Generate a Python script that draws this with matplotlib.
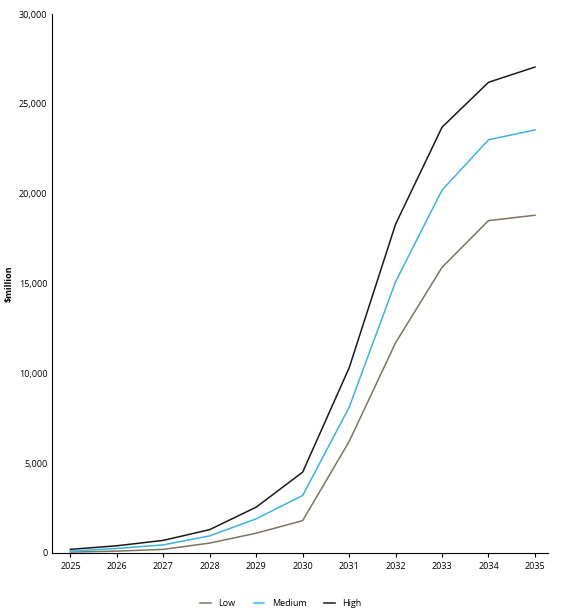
import matplotlib
matplotlib.use("Agg")
import matplotlib.pyplot as plt
from matplotlib.ticker import FuncFormatter

years = [2025, 2026, 2027, 2028, 2029, 2030, 2031, 2032, 2033, 2034, 2035]
low = [50, 100, 200, 550, 1100, 1800, 6200, 11700, 15900, 18500, 18800]
medium = [100, 250, 450, 950, 1900, 3200, 8100, 15100, 20200, 23000, 23550]
high = [200, 400, 700, 1300, 2550, 4500, 10300, 18300, 23700, 26200, 27050]

plt.rcParams['font.family'] = ['Open Sans', 'DejaVu Sans']
fig = plt.figure(figsize=(5.62, 6.11), dpi=100)
ax = fig.add_axes([0.093, 0.095, 0.882, 0.882])
ax.plot(years, low, color='#7d7462', lw=1.1, label='Low')
ax.plot(years, medium, color='#3db2e3', lw=1.1, label='Medium')
ax.plot(years, high, color='#1a1a1a', lw=1.1, label='High')
ax.set_xlim(2024.61, 2035.28)
ax.set_ylim(0, 30000)
ax.set_xticks(years)
ax.set_yticks(range(0, 30001, 5000))
ax.yaxis.set_major_formatter(FuncFormatter(lambda v, p: f"{int(v):,}"))
ax.tick_params(labelsize=6.5, length=3, width=0.8)
ax.tick_params(axis='y', length=0)
for s in ['top', 'right']:
    ax.spines[s].set_visible(False)
ax.set_ylabel('$million', fontsize=6.5, fontweight='bold')
fig.legend(loc='lower center', bbox_to_anchor=(0.5, -0.008), ncol=3, frameon=False,
           fontsize=6.5, handlelength=1.2, columnspacing=2)
fig.savefig('out.png', dpi=100)
